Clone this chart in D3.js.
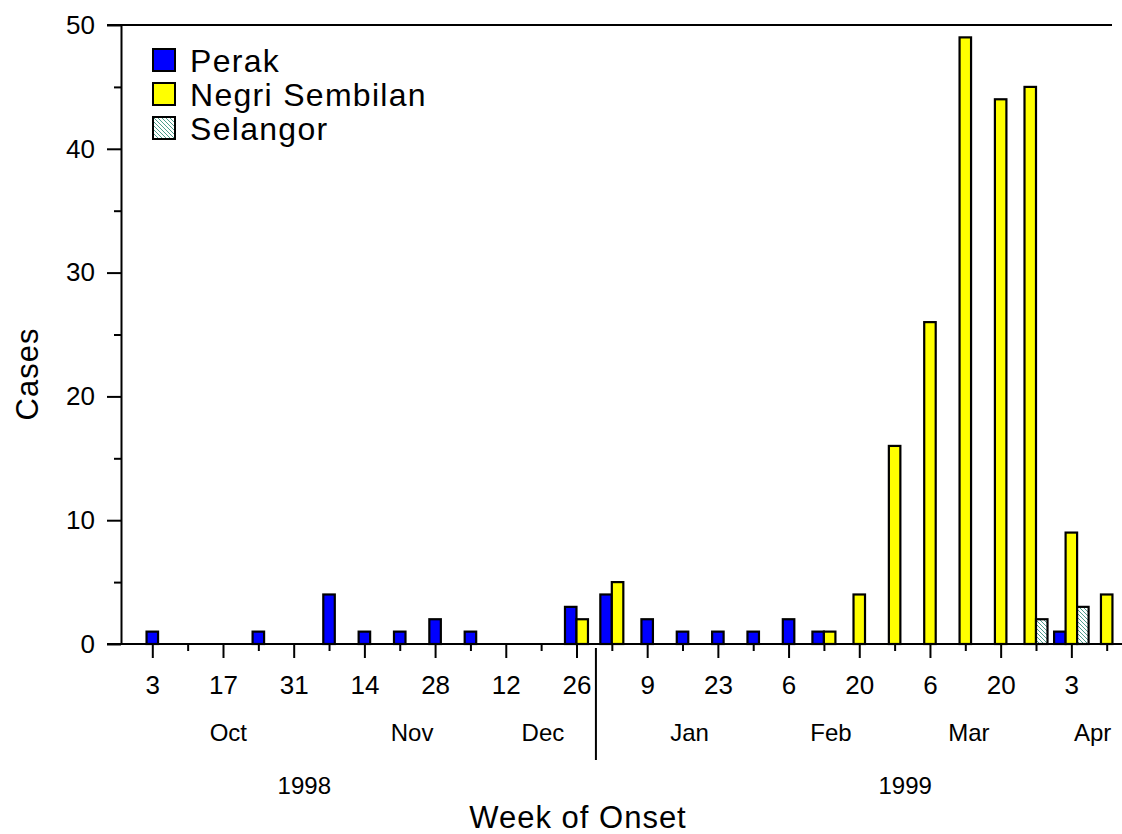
<!DOCTYPE html>
<html>
<head>
<meta charset="utf-8">
<script src="https://cdn.jsdelivr.net/npm/d3@7"></script>
<style>
  body { margin: 0; background: #fff; }
  text { font-family: "Liberation Sans", Arial, sans-serif; fill: #000; }
</style>
</head>
<body>
<div id="canvas"></div>
<script>
// week of onset, 3 Oct 1998 .. 10 Apr 1999 (one entry per week)
const weekDays = [3, 10, 17, 24, 31, 7, 14, 21, 28, 5, 12, 19, 26,
                  2, 9, 16, 23, 30, 6, 13, 20, 27, 6, 13, 20, 27, 3, 10];
const perak    = [1, 0, 0, 1, 0, 4, 1, 1, 2, 1, 0, 0, 3,
                  4, 2, 1, 1, 1, 2, 1, 0, 0, 0, 0, 0, 0, 1, 0];
const negri    = [0, 0, 0, 0, 0, 0, 0, 0, 0, 0, 0, 0, 2,
                  5, 0, 0, 0, 0, 0, 1, 4, 16, 26, 49, 44, 45, 9, 4];
const selangor = [0, 0, 0, 0, 0, 0, 0, 0, 0, 0, 0, 0, 0,
                  0, 0, 0, 0, 0, 0, 0, 0, 0, 0, 0, 0, 2, 3, 0];
const seriesNames = ["Perak", "Negri Sembilan", "Selangor"];
const monthNames = ["Oct", "Nov", "Dec", "Jan", "Feb", "Mar", "Apr"];
const monthWeek = [2.15, 7.35, 11.05, 15.2, 19.2, 23.1, 26.6];
const yearNames = ["1998", "1999"];
const yearWeek = [4.3, 21.3];
const yearBreak = 12.55;
const yTicks = [0, 10, 20, 30, 40, 50];
const yMinor = [5, 15, 25, 35, 45];

const width = 1122, height = 834;
const svg = d3.select("#canvas").append("svg")
    .attr("width", width).attr("height", height);

const defs = svg.append("defs");
const pat = defs.append("pattern")
    .attr("id", "hatch").attr("patternUnits", "userSpaceOnUse")
    .attr("width", 4).attr("height", 4);
pat.append("rect").attr("width", 4).attr("height", 4).attr("fill", "#fff");
pat.append("path")
    .attr("d", "M-1,-1 L5,5 M3,-1 L5,1 M-1,3 L1,5")
    .attr("stroke", "#4e9e8c").attr("stroke-width", 1);

const colors = ["#0000ff", "#ffff00", "url(#hatch)"];

const x = d3.scaleLinear().domain([0, 27]).range([152.3, 1106.7]);
const y = d3.scaleLinear().domain([0, 50]).range([644, 25]);
const bw = 11.5;

// bars: non-zero series of a week sit side by side, centred on the tick
const rows = weekDays.map((d, i) => {
  const vals = [perak[i], negri[i], selangor[i]];
  const present = vals.map((v, s) => ({ s, v })).filter(e => e.v > 0);
  return present.map((e, k) => ({
    week: i, s: e.s, v: e.v, off: (k - (present.length - 1) / 2) * bw
  }));
}).flat();

svg.append("g").selectAll("rect").data(rows).enter().append("rect")
    .attr("x", d => x(d.week) + d.off - bw / 2)
    .attr("y", d => y(d.v))
    .attr("width", bw)
    .attr("height", d => y(0) - y(d.v))
    .attr("fill", d => colors[d.s])
    .attr("stroke", "#000").attr("stroke-width", 2.2);

// y axis
const yAxis = svg.append("g").attr("transform", "translate(121,0)");
yAxis.call(d3.axisLeft(y).tickValues(yTicks).tickSize(14).tickSizeOuter(0).tickPadding(12));
yAxis.append("g").call(d3.axisLeft(y).tickValues(yMinor).tickSize(7).tickFormat(""))
    .select(".domain").remove();
yAxis.selectAll("text").style("font-size", "26px").attr("font-family", null);
yAxis.selectAll("line, path").attr("stroke", "#000").attr("stroke-width", 2);

// frame lines
svg.append("line").attr("x1", 107).attr("x2", 1112).attr("y1", y(50)).attr("y2", y(50))
    .attr("stroke", "#000").attr("stroke-width", 2);
svg.append("line").attr("x1", 107).attr("x2", 1122).attr("y1", y(0)).attr("y2", y(0))
    .attr("stroke", "#000").attr("stroke-width", 2);

// x axis: labelled every other week
const major = weekDays.map((d, i) => i).filter(i => i % 2 === 0);
const minor = weekDays.map((d, i) => i).filter(i => i % 2 === 1);
const xAxis = svg.append("g").attr("transform", `translate(0,${y(0)})`);
xAxis.call(d3.axisBottom(x).tickValues(major).tickSize(14).tickPadding(18)
    .tickFormat(i => weekDays[i]));
xAxis.append("g").call(d3.axisBottom(x).tickValues(minor).tickSize(7).tickFormat(""));
xAxis.selectAll(".domain").remove();
xAxis.selectAll("text").style("font-size", "26px").attr("font-family", null);
xAxis.selectAll("line").attr("stroke", "#000").attr("stroke-width", 2);

svg.append("g").selectAll("text").data(monthNames).enter().append("text")
    .attr("x", (d, i) => x(monthWeek[i])).attr("y", 741)
    .attr("text-anchor", "middle").style("font-size", "24px").text(d => d);

svg.append("g").selectAll("text").data(yearNames).enter().append("text")
    .attr("x", (d, i) => x(yearWeek[i])).attr("y", 794)
    .attr("text-anchor", "middle").style("font-size", "24px").text(d => d);

svg.append("line")
    .attr("x1", x(yearBreak)).attr("x2", x(yearBreak))
    .attr("y1", 648).attr("y2", 760)
    .attr("stroke", "#000").attr("stroke-width", 2);

svg.append("text")
    .attr("x", 578).attr("y", 828)
    .attr("text-anchor", "middle").style("font-size", "31px").attr("letter-spacing", 1)
    .text("Week of Onset");

svg.append("text")
    .attr("transform", "translate(38,374) rotate(-90)")
    .attr("text-anchor", "middle").style("font-size", "31px").attr("letter-spacing", 1)
    .text("Cases");

// legend
const legend = svg.append("g").attr("transform", "translate(153,49)");
const items = legend.selectAll("g").data(seriesNames).enter().append("g")
    .attr("transform", (d, i) => `translate(0,${i * 34})`);
items.append("rect").attr("width", 22).attr("height", 22)
    .attr("fill", (d, i) => colors[i]).attr("stroke", "#000").attr("stroke-width", 2);
items.append("text").attr("x", 37).attr("y", 23)
    .style("font-size", "32px").attr("letter-spacing", 1.3).text(d => d);
</script>
</body>
</html>
